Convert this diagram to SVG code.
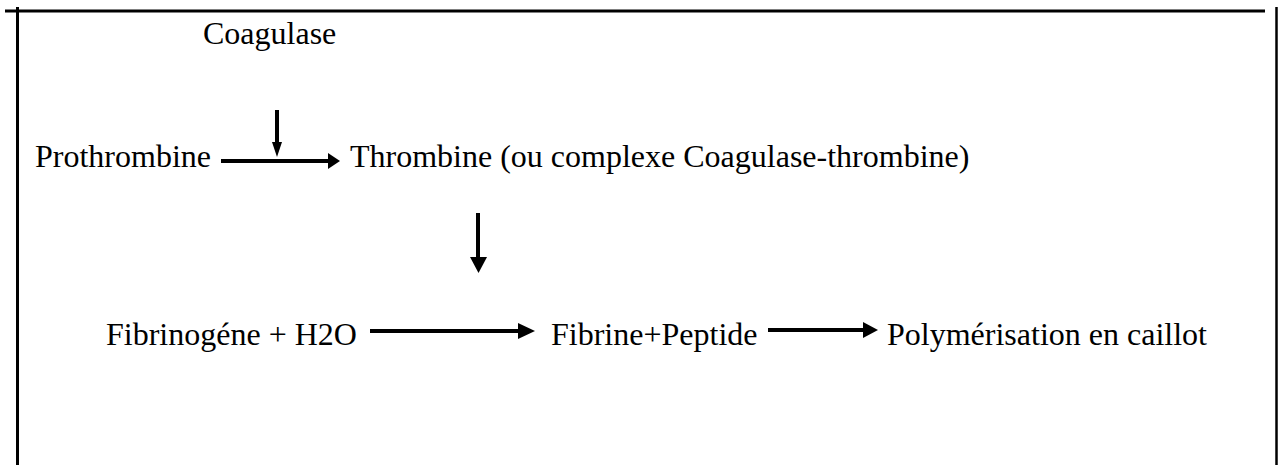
<svg xmlns="http://www.w3.org/2000/svg" width="1282" height="465" viewBox="0 0 1282 465">
  <style>
    .lbl { font-family: "Liberation Serif", "Times New Roman", serif; font-size: 32px; fill: #000; }
    .frame { stroke: #000; fill: none; }
    .shaft { stroke: #000; stroke-width: 4; fill: none; }
    .head { fill: #000; }
  </style>
  <rect width="1282" height="465" fill="#fff"/>
  <!-- frame -->
  <g id="frame">
    <line class="frame" x1="5" y1="11" x2="1265" y2="11" stroke-width="3"/>
    <line class="frame" x1="17.5" y1="7" x2="17.5" y2="465" stroke-width="3"/>
    <line class="frame" x1="1276.5" y1="7" x2="1276.5" y2="465" stroke-width="2.5"/>
  </g>
  <!-- nodes -->
  <g id="coagulase"><text class="lbl" x="203" y="44">Coagulase</text></g>
  <g id="prothrombine"><text class="lbl" x="35" y="167">Prothrombine</text></g>
  <g id="thrombine"><text class="lbl" x="350" y="167">Thrombine (ou complexe Coagulase-thrombine)</text></g>
  <g id="fibrinogene"><text class="lbl" x="106" y="345">Fibrinogéne + H2O</text></g>
  <g id="fibrine"><text class="lbl" x="551" y="345">Fibrine+Peptide</text></g>
  <g id="polymerisation"><text class="lbl" x="887" y="345">Polymérisation en caillot</text></g>
  <!-- connectors -->
  <g id="connectors">
    <line class="shaft" x1="221" y1="161" x2="330" y2="161"/>
    <polygon class="head" points="328,153 340,161 328,169"/>
    <line class="shaft" x1="277" y1="110" x2="277" y2="144" stroke-width="2"/>
    <polygon class="head" points="272,142 282,142 277,157"/>
    <line class="shaft" x1="478" y1="213" x2="478" y2="259"/>
    <polygon class="head" points="470,257 487,257 478.5,273"/>
    <line class="shaft" x1="370" y1="331" x2="520" y2="331"/>
    <polygon class="head" points="518,323 535,331 518,339"/>
    <line class="shaft" x1="768" y1="330" x2="865" y2="330"/>
    <polygon class="head" points="863,322 878,330 863,338"/>
  </g>
</svg>
